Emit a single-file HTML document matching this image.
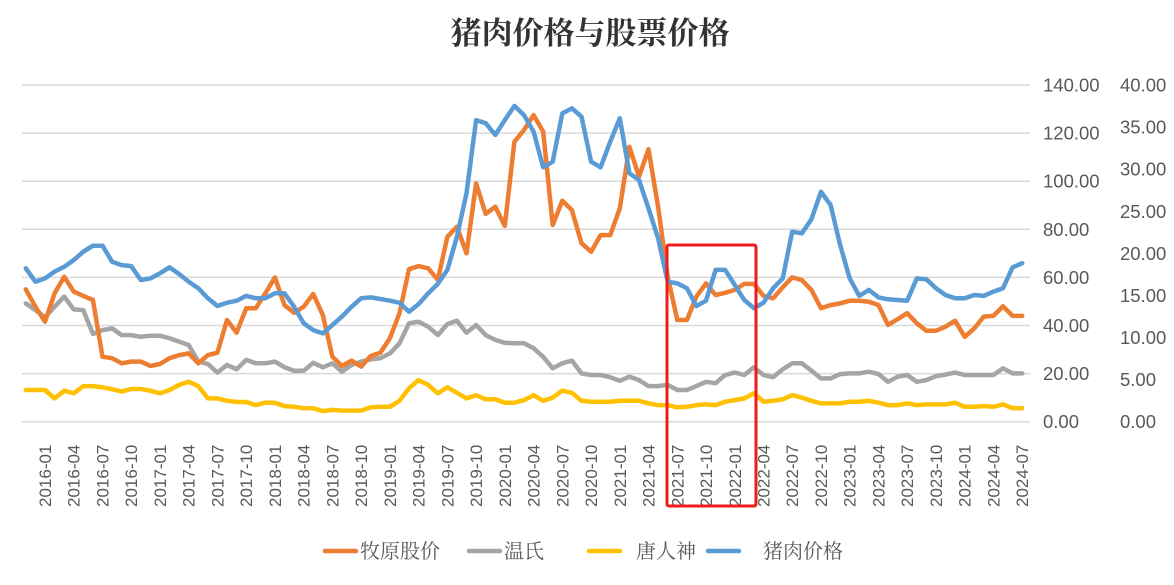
<!DOCTYPE html>
<html><head><meta charset="utf-8"><style>
html,body{margin:0;padding:0;background:#fff;}
body{width:1174px;height:585px;overflow:hidden;position:relative;}
svg{position:absolute;left:0;top:0;}
</style></head><body>
<svg id="chart" width="1174" height="585">
<text x="590" y="44" text-anchor="middle" font-family="'Liberation Serif','Noto Serif CJK SC',serif" font-size="31" font-weight="bold" fill="#333">猪肉价格与股票价格</text>
<g id="grid"></g>
<g id="yleft"></g>
<g id="yright"></g>
<g id="xaxis"></g>
<g id="series"></g>
<rect x="667" y="245" width="89" height="261" fill="none" stroke="#ee1c1c" stroke-width="3" rx="2"></rect>
<g id="legend"></g>
</svg>
<script>
const startYear = 2015, startMonth = 11;
const leftTicks = [0,20,40,60,80,100,120,140];
const rightTicks = [0,5,10,15,20,25,30,35,40];
const seriesNames = ["牧原股价","温氏","唐人神","猪肉价格"];
const muyuan = [55.0,47.8,41.6,53.4,60.3,54.1,52.3,50.6,27.0,26.4,24.3,25.0,25.0,23.2,24.0,26.4,27.7,28.4,24.3,27.7,28.7,42.3,37.0,47.2,47.2,53.4,60.0,48.5,45.3,47.8,53.1,44.4,27.0,23.2,25.4,22.9,
27.3,28.7,34.7,45.1,63.4,64.7,63.8,58.9,76.9,81.1,70.0,99.1,86.4,89.4,81.4,116.4,121.3,127.5,120.6,81.8,91.9,88.0,74.2,70.7,77.6,77.6,88.7,114.3,101.9,113.3,89.4,60.3,42.3,42.3,52.0,57.5,
52.7,53.6,54.8,57.3,57.3,52.3,51.3,55.9,60.0,58.9,54.8,47.2,48.5,49.2,50.3,50.3,49.9,48.5,40.2,42.6,45.1,40.9,37.8,37.8,39.5,42.0,35.3,38.8,43.7,44.0,48.0,44.0,44.0];
const wens = [49.2,46.4,43.4,47.8,52.0,46.7,46.4,36.5,38.1,38.8,36.0,36.0,35.3,35.7,35.7,34.7,33.3,31.9,25.0,24.0,20.4,23.6,21.8,25.7,24.3,24.3,25.0,22.6,21.2,21.2,24.5,22.6,24.3,20.8,23.6,25.0,
25.9,26.4,28.4,32.6,40.9,41.6,39.5,36.0,40.6,42.0,37.0,40.2,36.0,34.0,32.8,32.6,32.6,30.5,27.0,22.2,24.3,25.4,20.1,19.4,19.4,18.5,17.0,18.7,17.3,14.8,14.8,15.3,13.2,13.2,14.8,16.6,
16.0,19.4,20.4,19.4,22.6,19.4,18.5,21.8,24.3,24.3,21.2,18.0,18.0,19.8,20.1,20.1,20.8,19.8,16.6,18.7,19.4,16.6,17.3,18.9,19.6,20.4,19.4,19.4,19.4,19.4,22.2,20.1,20.1];
const tangrenshen = [13.2,13.2,13.2,9.7,12.9,11.8,14.8,14.8,14.3,13.5,12.5,13.6,13.6,12.9,11.8,13.2,15.3,16.6,14.8,9.7,9.7,8.7,8.2,8.2,6.9,7.9,7.9,6.5,6.2,5.6,5.6,4.4,4.9,4.6,4.6,4.6,
6.0,6.2,6.2,8.7,13.9,17.3,15.3,11.8,14.3,12.0,9.7,11.0,9.3,9.3,7.9,7.9,9.0,11.0,8.7,10.0,12.9,12.0,8.7,8.3,8.3,8.3,8.7,8.7,8.7,7.6,6.9,6.9,6.0,6.2,6.9,7.2,
6.9,8.3,9.0,9.7,11.8,8.3,8.7,9.3,11.0,10.0,8.7,7.6,7.6,7.6,8.3,8.3,8.7,7.9,6.9,6.9,7.6,6.9,7.2,7.2,7.2,7.9,6.2,6.2,6.5,6.2,7.2,5.6,5.6];
const porkPrice = [63.8,58.2,59.6,62.4,64.4,67.2,70.7,73.2,73.2,66.5,65.1,64.7,58.9,59.6,61.7,64.2,61.4,58.2,55.5,51.3,48.1,49.5,50.3,52.3,51.3,51.3,53.4,53.4,47.8,40.9,38.1,36.7,40.2,43.7,47.8,51.3,
51.7,51.0,50.3,49.5,45.7,48.9,53.4,57.3,63.1,76.9,95.0,125.4,124.1,119.2,125.4,131.3,127.5,120.6,105.8,108.1,128.2,130.3,126.8,108.1,105.8,116.4,126.2,103.3,100.5,88.7,76.3,58.2,57.5,55.5,48.1,50.3,
63.1,63.1,56.8,50.6,47.2,49.5,55.5,59.6,79.0,78.3,84.2,95.6,90.1,73.5,59.6,52.3,54.8,51.7,50.9,50.6,50.3,59.6,59.2,55.5,52.7,51.3,51.3,52.7,52.3,54.1,55.5,64.2,65.9];

const NS = "http://www.w3.org/2000/svg";
const X0 = 45, DX = 9.58, Y0 = 421.7, YTOP = 85, LMAX = 140, RMAX = 40;
const xScale = i => X0 + (i - 2) * DX;
const yLeft = v => Y0 - v / LMAX * (Y0 - YTOP);
const yRight = v => Y0 - v / RMAX * (Y0 - YTOP);
const FONT = "'Liberation Sans','Noto Sans CJK SC',sans-serif";
function mk(tag, attrs, parent){const e=document.createElementNS(NS,tag);for(const k in attrs)e.setAttribute(k,attrs[k]);parent.appendChild(e);return e;}

const grid = document.getElementById('grid');
const yl = document.getElementById('yleft');
leftTicks.forEach(t=>{
  const g = mk('line',{x1:22,x2:1030,y1:yLeft(t),y2:yLeft(t),stroke:'#d9d9d9','stroke-width':1.5},grid);
  
  
  const tx = mk('text',{x:1043,y:yLeft(t)+6.5,'font-family':FONT,'font-size':18.5,fill:'#595959'},yl);
  tx.textContent = t.toFixed(2);
  
  
});
const yr = document.getElementById('yright');
rightTicks.forEach(t=>{
  const tx = mk('text',{x:1120,y:yRight(t)+6.5,'font-family':FONT,'font-size':18.5,fill:'#595959'},yr);
  tx.textContent = t.toFixed(2);
  
  
});
const xa = document.getElementById('xaxis');
for(let i=0;i<porkPrice.length;i++){
  const m = startMonth - 1 + i, y = startYear + Math.floor(m/12), mo = m%12 + 1;
  if((mo-1)%3!==0) continue;
  const lbl = y + "-" + String(mo).padStart(2,'0');
  const x = xScale(i);
  const tx = mk('text',{x:0,y:0,transform:`translate(${x+6},507) rotate(-90)`,'font-family':FONT,'font-size':17,fill:'#595959'},xa);
  tx.textContent = lbl;
  
  
}
const colors = ['#ED7D31','#A5A5A5','#FFC000','#5B9BD5'];
const data = [muyuan,wens,tangrenshen,porkPrice];
const names = ['line-muyuan','line-wens','line-tangrenshen','line-pork-price'];
const sg = document.getElementById('series');
[1,2,0,3].forEach(k=>{
  const pts = data[k].map((v,i)=>xScale(i).toFixed(1)+','+yLeft(v).toFixed(1)).join(' ');
  const p = mk('polyline',{points:pts,fill:'none',stroke:colors[k],'stroke-width':4.5,'stroke-linejoin':'round','stroke-linecap':'round'},sg);
  
  
});
const lg = document.getElementById('legend');
const lx = [323,467,587,706], tx0=[360,504,636,763];
seriesNames.forEach((n,k)=>{
  const l = mk('line',{x1:lx[k]+2,x2:lx[k]+33,y1:551,y2:551,stroke:colors[k],'stroke-width':4.5,'stroke-linecap':'round'},lg);
  
  
  const t = mk('text',{x:tx0[k],y:558,'font-family':"'Liberation Serif','Noto Serif CJK SC',serif",'font-size':20,fill:'#595959'},lg);
  t.textContent = n;
  
  
});
</script>
</body></html>
